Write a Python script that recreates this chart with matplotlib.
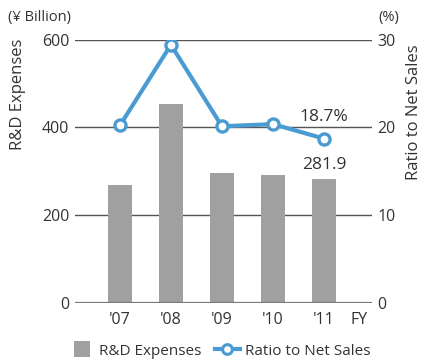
import matplotlib
matplotlib.use("Agg")
import matplotlib.pyplot as plt
from matplotlib.lines import Line2D

plt.rcParams['font.family'] = ['Open Sans', 'DejaVu Sans']

years = ["'07", "'08", "'09", "'10", "'11"]
rd_expenses = [268, 453, 295, 291, 281.9]      # ¥ billion
ratio_to_sales = [20.2, 29.4, 20.1, 20.35, 18.7]  # %

TEXT = '#333333'
BAR = '#a0a0a0'
BLUE = '#4a9bd2'
FS = 11.5

fig = plt.figure(figsize=(4.23, 3.61), dpi=100)
ax = fig.add_axes([0.1773, 0.162, 0.7014, 0.7285])
ax2 = ax.twinx()

x = list(range(len(years)))
ax.bar(x, rd_expenses, width=0.47, color=BAR, zorder=2)
ax.set_ylim(0, 600)
ax.set_xlim(-0.88, 4.935)
ax.set_yticks([0, 200, 400, 600])
ax.set_xticks(x)
ax.set_xticklabels(years)
ax.grid(axis='y', color='#555555', linewidth=1.0, zorder=1)
ax.axhline(0, color='#7a7a7a', linewidth=1.6, zorder=3)
for s in ax.spines.values():
    s.set_visible(False)
ax.tick_params(axis='both', length=0, labelsize=FS, labelcolor=TEXT)
ax.tick_params(axis='y', pad=4)
ax.tick_params(axis='x', pad=7)

ax2.plot(x, ratio_to_sales, color=BLUE, linewidth=3.0, marker='o',
         markersize=8, markerfacecolor='white', markeredgecolor=BLUE,
         markeredgewidth=2.4, zorder=5)
ax2.set_ylim(0, 30)
ax2.set_yticks([0, 10, 20, 30])
for s in ax2.spines.values():
    s.set_visible(False)
ax2.tick_params(axis='y', length=0, labelsize=FS, labelcolor=TEXT, pad=4)

# value labels for the latest year
ax2.annotate(f"{ratio_to_sales[-1]}%", (x[-1], ratio_to_sales[-1]),
             xytext=(0, 10), textcoords='offset points', ha='center',
             va='bottom', fontsize=12.5, color=TEXT)
ax.annotate(f"{rd_expenses[-1]}", (x[-1], rd_expenses[-1]),
            xytext=(0, 4), textcoords='offset points', ha='center',
            va='bottom', fontsize=12.5, color=TEXT)

ax.annotate('FY', xy=(4.69, 0), xycoords='data', xytext=(0, -7),
            textcoords='offset points', ha='center', va='top',
            fontsize=FS, color=TEXT)

fig.text(0.019, 0.952, '(¥ Billion)', fontsize=10.5, color=TEXT, va='center')
fig.text(0.043, 0.74, 'R&D Expenses', rotation=90, fontsize=12,
         color=TEXT, ha='center', va='center')
fig.text(0.918, 0.952, '(%)', fontsize=10.5, color=TEXT, va='center', ha='center')
fig.text(0.978, 0.69, 'Ratio to Net Sales', rotation=90, fontsize=12,
         color=TEXT, ha='center', va='center')

handles = [
    Line2D([0], [0], color=BAR, linestyle='none', marker='s', markersize=11,
           markeredgewidth=0, label='R&D Expenses'),
    Line2D([0], [0], color=BLUE, linewidth=3.0, marker='o', markersize=7,
           markerfacecolor='white', markeredgecolor=BLUE,
           markeredgewidth=2.2, label='Ratio to Net Sales'),
]
leg = fig.legend(handles=handles, loc='center', bbox_to_anchor=(0.52, 0.027),
                 ncol=2, frameon=False, fontsize=11, handlelength=1.6,
                 handletextpad=0.35, columnspacing=0.9, borderaxespad=0)
for t in leg.get_texts():
    t.set_color(TEXT)

fig.savefig('out.png', dpi=100)
